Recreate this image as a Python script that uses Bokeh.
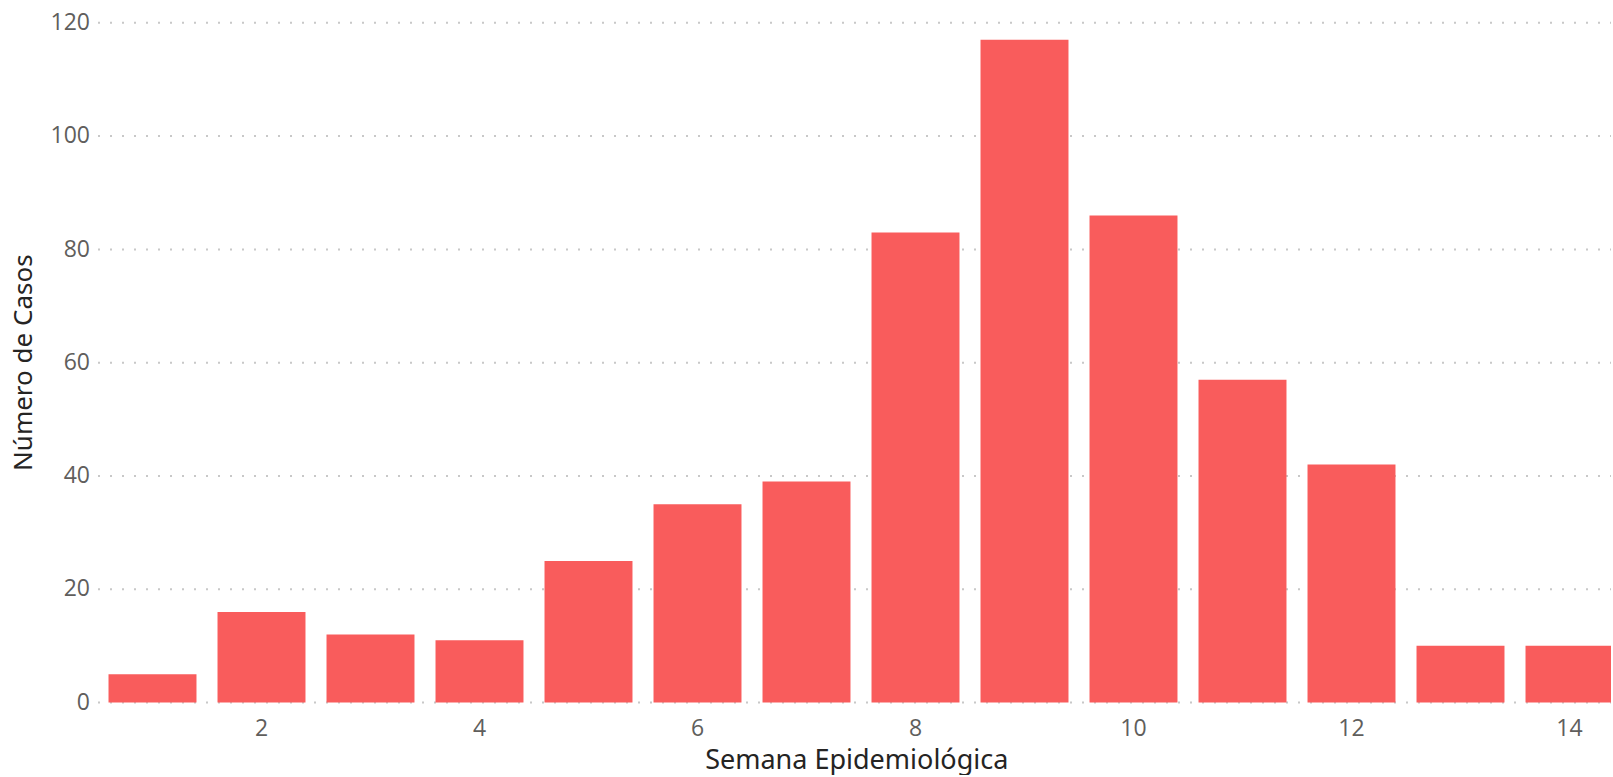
import math
from bokeh.plotting import figure
from bokeh.models import Range1d, ColumnDataSource
from bokeh.core.properties import value
from bokeh.embed import file_html
from bokeh.resources import INLINE

semanas = [1, 2, 3, 4, 5, 6, 7, 8, 9, 10, 11, 12, 13, 14]
casos = [5, 16, 12, 11, 25, 35, 39, 83, 117, 86, 57, 42, 10, 10]
x_ticks = [2, 4, 6, 8, 10, 12, 14]
y_ticks = [0, 20, 40, 60, 80, 100, 120]
x_title = "Semana Epidemiológica"
y_title = "Número de Casos"

# layout (pixels)
W, H = 1611, 775
PX_X = 109.0          # pixels per week
PX_Y = 5.664          # pixels per case
BAR_W = 0.807
ZERO_PX = 702.0       # y of the zero line from the figure top
BAR1_PX = 152.0       # x of the first bar centre from the figure left

x_start = semanas[0] - BAR1_PX / PX_X
x_end = x_start + W / PX_X
y_start = -(H - ZERO_PX) / PX_Y
y_end = ZERO_PX / PX_Y
plot_left = semanas[0] - BAR_W / 2 - (1 - BAR_W) / 2

p = figure(width=W, height=H, output_backend="svg", toolbar_location=None,
           x_range=Range1d(x_start, x_end), y_range=Range1d(y_start, y_end),
           x_axis_location=None, y_axis_location=None,
           min_border=0, min_border_left=0, min_border_right=0,
           min_border_top=0, min_border_bottom=0)
p.outline_line_color = None
p.xgrid.visible = False
p.ygrid.visible = False
p.background_fill_color = "white"
p.border_fill_color = "white"

grid = ColumnDataSource(dict(x0=[plot_left] * len(y_ticks), x1=[x_end] * len(y_ticks),
                             y=y_ticks, lab=[str(t) for t in y_ticks]))
p.segment(x0="x0", y0="y", x1="x1", y1="y", source=grid,
          line_color="#C8C8C8", line_width=2, line_dash="2 10")

src = ColumnDataSource(dict(x=semanas, y=casos))
p.vbar(x="x", top="y", width=BAR_W, source=src, color="#F95C5C", line_color=None)

tick_font = value("Open Sans")
title_font = value("Noto Sans")

# y tick labels
p.text(x="x0", y="y", text="lab", source=grid, x_offset=-8, y_offset=-1.3,
       text_align="right", text_baseline="alphabetic", text_font=tick_font,
       text_font_size="23px", text_color="#605E5C")

# x tick labels
xt = ColumnDataSource(dict(x=x_ticks, y=[0] * len(x_ticks), lab=[str(t) for t in x_ticks]))
p.text(x="x", y="y", text="lab", source=xt, y_offset=25,
       text_align="center", text_baseline="alphabetic", text_font=tick_font,
       text_font_size="23px", text_color="#605E5C")

# axis titles
p.text(x=[(plot_left + x_end) / 2], y=[0], text=[x_title], x_offset=2, y_offset=55.5,
       text_align="center", text_baseline="alphabetic", text_font=title_font,
       text_font_size="27px", text_color="#252423")
p.text(x=[plot_left], y=[(y_ticks[0] + y_ticks[-1]) / 2], text=[y_title], x_offset=-76,
       angle=math.pi / 2, text_align="center", text_baseline="alphabetic",
       text_font=title_font, text_font_size="26px", text_color="#252423")

open("out.html", "w").write(file_html(p, INLINE))
